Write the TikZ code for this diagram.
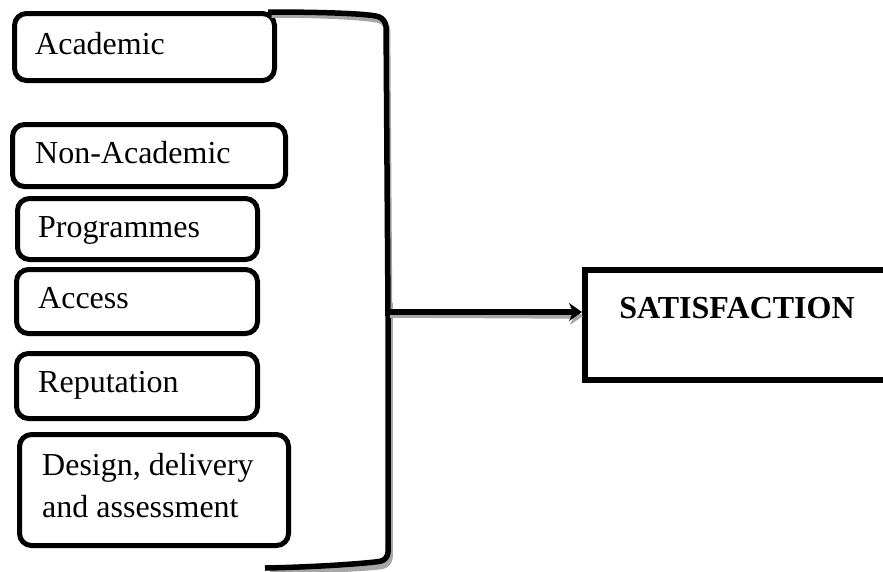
\documentclass[tikz,border=0pt]{standalone}
\usepackage{fontspec}
\setmainfont{Liberation Serif}
\usetikzlibrary{arrows.meta}
\tikzset{
  box/.style={draw=black, line width=5pt, rounded corners=12pt, anchor=north west, inner sep=0pt},
  lbl/.style={anchor=base west, inner sep=0pt, font=\fontsize{32}{42}\selectfont},
  shadowline/.style={draw=black!35, line width=5.5pt},
  mainline/.style={draw=black, line width=5.5pt},
}
\begin{document}
\begin{tikzpicture}[x=1pt, y=-1pt]
\useasboundingbox (0,0) rectangle (883,571);
\clip (0,0) rectangle (883,571);
% left boxes
\node[box, minimum width=260pt, minimum height=67pt] (acad) at (12,11) {};
\node[box, minimum width=273pt, minimum height=62pt] (nonacad) at (10,122) {};
\node[box, minimum width=240pt, minimum height=61pt] (prog) at (15,196) {};
\node[box, minimum width=241pt, minimum height=64pt] (access) at (14,267) {};
\node[box, minimum width=241pt, minimum height=65pt] (rep) at (14,351) {};
\node[box, minimum width=269pt, minimum height=111pt] (design) at (17,432) {};
% texts
\node[lbl] at (35,54) {Academic};
\node[lbl] at (35,163) {Non-Academic};
\node[lbl] at (38,237) {Programmes};
\node[lbl] at (38,308) {Access};
\node[lbl] at (38,392) {Reputation};
\node[lbl] at (42,475) {Design, delivery};
\node[lbl] at (42,517) {and assessment};
% satisfaction box
\node[draw=black, line width=5.5pt, anchor=north west, minimum width=330pt, minimum height=110pt, inner sep=0pt] (sat) at (582,267) {};
\node[anchor=base, inner sep=0pt, font=\fontsize{32}{38}\selectfont\bfseries] (sattext) at (737,318) {SATISFACTION};
% bracket
\coordinate (btop) at (268,12);
\coordinate (bbot) at (265,568);
\coordinate (bmid) at (388,312);
\draw[shadowline, rounded corners=8pt, shift={(1.5pt,-3pt)}] (270,12) .. controls (330,12) and (370,15) .. (386,20) -- (388,300);
\draw[shadowline, rounded corners=8pt, shift={(2pt,-3pt)}] (388,300) -- (388,562) .. controls (370,565) and (320,568) .. (268,568);
\draw[mainline, rounded corners=8pt] (btop) .. controls (330,12) and (370,14) .. (386,19) -- (bmid) -- (388,560) .. controls (370,563) and (320,567) .. (bbot);
% arrow
\coordinate (ashadow) at (390,315);
\draw[shadowline, -{Stealth[length=13pt,width=18pt]}] (ashadow) -- (583,316);
\draw[mainline, -{Stealth[length=13pt,width=18pt]}] (bmid) -- (sat.west |- bmid);
\end{tikzpicture}
\end{document}
